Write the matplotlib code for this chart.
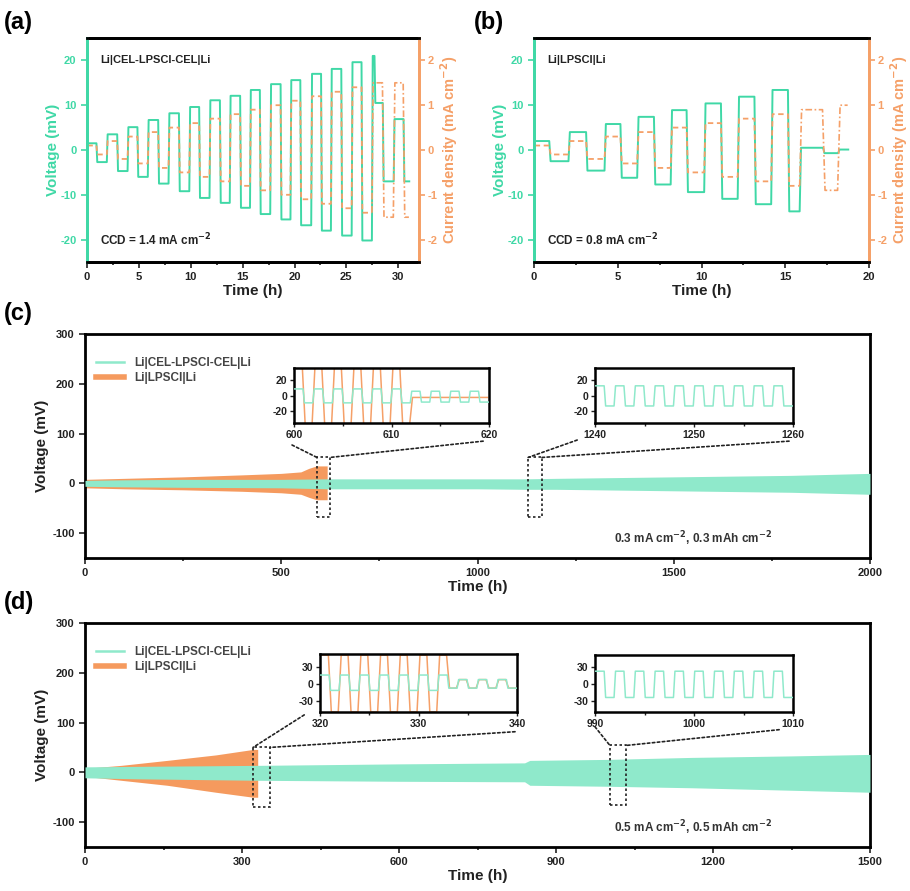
import numpy as np
import matplotlib
matplotlib.use("Agg")
import matplotlib.pyplot as plt
from matplotlib.lines import Line2D
from matplotlib.patches import Rectangle, ConnectionPatch

plt.rcParams['font.family'] = ['Liberation Sans', 'DejaVu Sans']
plt.rcParams['font.weight'] = 'bold'
plt.rcParams['axes.labelweight'] = 'bold'
plt.rcParams['axes.unicode_minus'] = False

TEAL = '#3fd8a6'
TEAL_BAND = '#8fe9cb'
ORANGE = '#f5a068'
ORANGE_BAND = '#f59a5e'
DARK = '#222222'

# ---- (a) Li|CEL-LPSCl-CEL|Li, stepwise current ----
a_edges = [0, 0.95, 1.95, 2.95, 3.95, 4.9, 5.9, 6.9, 7.9, 8.9, 9.9, 10.85, 11.85,
           12.85, 13.8, 14.8, 15.75, 16.7, 17.7, 18.7, 19.65, 20.6, 21.65, 22.6,
           23.55, 24.55, 25.55, 26.5, 27.5, 27.75, 28.55, 29.6, 30.55, 31.1]
a_volt = [1.5, -2.7, 3.5, -4.7, 5.1, -6.0, 6.7, -7.5, 8.2, -9.2, 9.6, -10.7, 11.1,
          -11.8, 12.1, -12.9, 13.4, -14.3, 14.7, -15.5, 15.6, -16.8, 17.0, -18.0,
          18.1, -19.1, 19.6, -20.2, 21.0, 10.5, -7.0, 6.9, -7.0]
a_cur = [0.1, -0.1, 0.2, -0.2, 0.3, -0.3, 0.4, -0.4, 0.5, -0.5, 0.6, -0.6, 0.7, -0.7,
         0.8, -0.8, 0.9, -0.9, 1.0, -1.0, 1.1, -1.1, 1.2, -1.2, 1.3, -1.3, 1.4, -1.4]
a_cur_fail_edges = [27.5, 28.55, 29.6, 30.55, 31.1]
a_cur_fail = [1.5, -1.5, 1.5, -1.5]

# ---- (b) Li|LPSCl|Li, stepwise current ----
b_edges = [0, 0.95, 2.1, 3.15, 4.25, 5.2, 6.2, 7.2, 8.2, 9.15, 10.2, 11.2, 12.2,
           13.2, 14.2, 15.2, 15.9, 17.3, 18.2, 18.8]
b_volt = [2.0, -2.5, 4.0, -4.6, 5.8, -6.2, 7.4, -7.7, 8.9, -9.4, 10.4, -10.9, 11.9,
          -12.1, 13.4, -13.7, 0.5, -0.7, 0.1]
b_cur = [0.1, -0.1, 0.2, -0.2, 0.3, -0.3, 0.4, -0.4, 0.5, -0.5, 0.6, -0.6, 0.7, -0.7,
         0.8, -0.8]
b_cur_fail_edges = [15.9, 17.3, 18.2, 18.8]
b_cur_fail = [0.9, -0.9, 1.0]

# ---- (c) 0.3 mA cm-2 long cycling: voltage envelopes ----
c_cel_t = [0, 100, 250, 500, 620, 800, 1000, 1120, 1200, 1500, 1800, 2000]
c_cel_hi = [6, 7, 8, 8, 9, 9, 9, 9, 10, 13, 16, 20]
c_cel_lo = [-6, -7, -8, -9, -11, -11, -11, -12, -12, -15, -18, -22]
c_lps_t = [0, 100, 250, 400, 500, 550, 570, 590, 617]
c_lps_hi = [8, 10, 13, 17, 20, 23, 30, 35, 35]
c_lps_lo = [-9, -11, -13, -16, -19, -22, -28, -33, -33]

# inset c1 (600-620 h) and c2 (1240-1260 h), 1 h half cycles
c1_edges = [600, 601, 602, 603, 604, 605, 606, 607, 608, 609, 610, 611, 612, 613,
            614, 615, 616, 617, 618, 619, 620]
c1_cel = [9, -9, 9, -9, 9, -9, 9, -9, 9, -9, 9, -9, 6, -8, 6, -8, 6, -8, 6, -8]
c1_lps = [38, -38, 38, -38, 38, -38, 38, -38, 38, -38, 38, -38, -2, -2, -2, -2, -2,
          -2, -2, -2]
c2_edges = [1240, 1241, 1242, 1243, 1244, 1245, 1246, 1247, 1248, 1249, 1250, 1251,
            1252, 1253, 1254, 1255, 1256, 1257, 1258, 1259, 1260]
c2_cel = [13, -13, 13, -13, 13, -13, 13, -13, 13, -13, 13, -13, 13, -13, 13, -13, 13,
          -13, 13, -13]

# ---- (d) 0.5 mA cm-2 long cycling ----
d_cel_t = [0, 100, 330, 600, 840, 850, 1000, 1160, 1350, 1500]
d_cel_hi = [11, 12, 14, 17, 19, 24, 26, 30, 33, 36]
d_cel_lo = [-11, -13, -16, -18, -19, -26, -28, -31, -36, -40]
d_lps_t = [0, 69, 157, 250, 321, 330]
d_lps_hi = [8, 14, 24, 35, 46, 46]
d_lps_lo = [-8, -16, -26, -40, -50, -50]

d1_edges = [320, 321, 322, 323, 324, 325, 326, 327, 328, 329, 330, 331, 332, 333,
            334, 335, 336, 337, 338, 339, 340]
d1_cel = [15, -12, 15, -12, 15, -12, 15, -12, 15, -12, 15, -12, 15, -8, 7, -8, 7, -8,
          7, -8]
d1_lps = [50, -50, 50, -50, 50, -50, 50, -50, 50, -50, 50, -50, 50, -8, 7, -8, 7, -8,
          7, -8]
d2_edges = [990, 991, 992, 993, 994, 995, 996, 997, 998, 999, 1000, 1001, 1002, 1003,
            1004, 1005, 1006, 1007, 1008, 1009, 1010]
d2_cel = [23, -24, 23, -24, 23, -24, 23, -24, 23, -24, 23, -24, 23, -24, 23, -24, 23,
          -24, 23, -24]


def square(edges, levels, ramp):
    xs, ys = [], []
    for i, lv in enumerate(levels):
        xs += [edges[i] + ramp / 2, edges[i + 1] - ramp / 2]
        ys += [lv, lv]
    return np.array(xs), np.array(ys)


W, H = 910, 891
fig = plt.figure(figsize=(W / 100, H / 100), dpi=100)


def px_axes(x0, y0, x1, y1):
    return fig.add_axes([x0 / W, 1 - y1 / H, (x1 - x0) / W, (y1 - y0) / H])


def style_main(ax, color=DARK):
    for s in ax.spines.values():
        s.set_linewidth(2)
        s.set_color('black')
    ax.tick_params(which='both', direction='out', labelsize=8, width=1.2,
                   colors=color, labelcolor=color)
    ax.tick_params(which='major', length=4)
    ax.tick_params(which='minor', length=2.5)


# ---------- panel (a) and (b) ----------
def ccd_panel(ax, edges, volt, cur, fail_edges, fail_cur, xmax, xticks, label, ccd):
    style_main(ax)
    x, y = square(edges, volt, 0.08)
    ax.plot(x, y, color=TEAL, lw=1.4, zorder=3)
    ax.set_xlim(0, xmax)
    ax.set_ylim(-25, 25)
    ax.set_xticks(xticks)
    ax.set_xticks([t + (xticks[1] - xticks[0]) / 2 for t in xticks[:-1]], minor=True)
    ax.set_yticks([-20, -10, 0, 10, 20])
    ax.tick_params(axis='x', colors=DARK, labelcolor=DARK)
    ax.tick_params(axis='y', colors=TEAL, labelcolor=TEAL)
    ax.spines['left'].set_color(TEAL)
    ax.spines['right'].set_color(ORANGE)
    ax.set_xlabel('Time (h)', fontsize=11, color=DARK, labelpad=1)
    ax.set_ylabel('Voltage (mV)', fontsize=11, color=TEAL, labelpad=0)
    ax.text(0.04, 0.9, label, transform=ax.transAxes, fontsize=8, color=DARK,
            va='center')
    ax.text(0.04, 0.1, ccd, transform=ax.transAxes, fontsize=8.5, color=DARK,
            va='center')

    tw = ax.twinx()
    n = len(cur)
    xc, yc = square(edges[:n + 1], cur, 0.08)
    tw.plot(xc, yc, color=ORANGE, lw=1.3, ls=(0, (3, 2)), zorder=2)
    xf, yf = square(fail_edges, fail_cur, 0.15)
    xf = np.concatenate([[xc[-1]], xf])
    yf = np.concatenate([[yc[-1]], yf])
    tw.plot(xf, yf, color=ORANGE, lw=1.2, ls=(0, (4, 1.5, 1, 1.5)), zorder=2)
    tw.set_ylim(-2.5, 2.5)
    tw.set_yticks([-2, -1, 0, 1, 2])
    for s in tw.spines.values():
        s.set_linewidth(2)
    tw.spines['right'].set_color(ORANGE)
    tw.spines['left'].set_color(TEAL)
    tw.spines['top'].set_color('black')
    tw.tick_params(axis='y', direction='out', length=4, width=1.2, labelsize=8,
                   colors=ORANGE, labelcolor=ORANGE, pad=2)
    tw.set_ylabel('Current density (mA cm$^{\\mathbf{-2}}$)', fontsize=10.5,
                  color=ORANGE, labelpad=1)


ax_a = px_axes(87, 38, 419, 262)
ccd_panel(ax_a, a_edges, a_volt, a_cur, a_cur_fail_edges, a_cur_fail, 32,
          [0, 5, 10, 15, 20, 25, 30], 'Li|CEL-LPSCl-CEL|Li',
          'CCD = 1.4 mA cm$^{\\mathbf{-2}}$')
ax_b = px_axes(534, 38, 869, 262)
ccd_panel(ax_b, b_edges, b_volt, b_cur, b_cur_fail_edges, b_cur_fail, 20,
          [0, 5, 10, 15, 20], 'Li|LPSCl|Li', 'CCD = 0.8 mA cm$^{\\mathbf{-2}}$')


# ---------- panel (c) and (d) ----------
def long_panel(ax, cel, lps, xmax, xticks, cond):
    style_main(ax)
    ax.fill_between(lps[0], lps[2], lps[1], color=ORANGE_BAND, lw=0, zorder=2)
    ax.fill_between(cel[0], cel[2], cel[1], color=TEAL_BAND, lw=0, zorder=3)
    ax.set_xlim(0, xmax)
    ax.set_ylim(-150, 300)
    ax.set_xticks(xticks)
    ax.set_xticks([t + (xticks[1] - xticks[0]) / 2 for t in xticks[:-1]], minor=True)
    ax.set_yticks([-100, 0, 100, 200, 300])
    ax.set_xlabel('Time (h)', fontsize=11, color=DARK, labelpad=1)
    ax.set_ylabel('Voltage (mV)', fontsize=11, color=DARK, labelpad=2)
    handles = [Line2D([], [], color=TEAL_BAND, lw=1.8),
               Line2D([], [], color=ORANGE_BAND, lw=4)]
    leg = ax.legend(handles, ['Li|CEL-LPSCl-CEL|Li', 'Li|LPSCl|Li'], loc='upper left',
                    bbox_to_anchor=(0.005, 0.93), frameon=False, fontsize=8.5,
                    handlelength=2.4, labelspacing=0.3, borderaxespad=0.2)
    for t in leg.get_texts():
        t.set_color('#444444')
    ax.text(0.674, 0.085, cond, transform=ax.transAxes, fontsize=8.5, color='#333333',
            va='center')


def inset(box, main, edges, cel, lps, ylim, yticks, xticks, rect, ends):
    ins = px_axes(*box)
    x, y = square(edges, cel, 0.15)
    ins.plot(x, y, color=TEAL_BAND, lw=1.1, zorder=3)
    if lps is not None:
        xo, yo = square(edges, lps, 0.3)
        ins.plot(xo, yo, color=ORANGE, lw=1.1, zorder=2)
    ins.set_xlim(edges[0], edges[-1])
    ins.set_ylim(*ylim)
    ins.set_xticks(xticks)
    ins.set_xticks([xticks[0] + 5, xticks[1] + 5], minor=True)
    ins.set_yticks(yticks)
    for s in ins.spines.values():
        s.set_linewidth(1.8)
    ins.tick_params(which='both', direction='out', labelsize=7.5, width=1,
                    colors=DARK, pad=2)
    ins.tick_params(which='major', length=3)
    ins.tick_params(which='minor', length=2)
    main.add_patch(Rectangle((rect[0], rect[1]), rect[2], rect[3], fill=False,
                             ec='#222222', lw=1.2, ls=(0, (1.5, 1.5)), zorder=5))
    for (fx, fy), corner in zip(ends, [rect[0], rect[0] + rect[2]]):
        cp = ConnectionPatch(xyA=(fx, fy), coordsA='axes fraction', axesA=ins,
                             xyB=(corner, rect[1] + rect[3]), coordsB='data', axesB=main,
                             color='#222222', lw=1.2, ls=(0, (1.5, 1.5)), zorder=5)
        fig.add_artist(cp)
    return ins


ax_c = px_axes(85, 334, 870, 558)
long_panel(ax_c, (c_cel_t, c_cel_hi, c_cel_lo), (c_lps_t, c_lps_hi, c_lps_lo), 2000,
           [0, 500, 1000, 1500, 2000],
           '0.3 mA cm$^{\\mathbf{-2}}$, 0.3 mAh cm$^{\\mathbf{-2}}$')
inset((294, 368, 489, 423), ax_c, c1_edges, c1_cel, c1_lps, (-35, 36), [-20, 0, 20],
      [600, 610, 620], (591, -68, 33, 120), [(-0.01, -0.4), (0.97, -0.33)])
inset((595, 368, 793, 423), ax_c, c2_edges, c2_cel, None, (-35, 36), [-20, 0, 20],
      [1240, 1250, 1260], (1129, -68, 35, 120), [(-0.09, -0.31), (0.98, -0.33)])

ax_d = px_axes(85, 623, 870, 847)
long_panel(ax_d, (d_cel_t, d_cel_hi, d_cel_lo), (d_lps_t, d_lps_hi, d_lps_lo), 1500,
           [0, 300, 600, 900, 1200, 1500],
           '0.5 mA cm$^{\\mathbf{-2}}$, 0.5 mAh cm$^{\\mathbf{-2}}$')
inset((320, 654, 517, 712), ax_d, d1_edges, d1_cel, d1_lps, (-50, 52), [-30, 0, 30],
      [320, 330, 340], (321, -70, 32, 120), [(-0.08, -0.05), (0.99, -0.34)])
inset((595, 655, 793, 712), ax_d, d2_edges, d2_cel, None, (-50, 52), [-30, 0, 30],
      [990, 1000, 1010], (1003, -66, 31, 120), [(0.0, -0.26), (0.93, -0.31)])

for lab, x, y in [('(a)', 4, 22), ('(b)', 474, 22), ('(c)', 4, 313), ('(d)', 4, 603)]:
    fig.text(x / W, 1 - y / H, lab, fontsize=17, color='black', va='center')

fig.savefig('out.png', dpi=100)
